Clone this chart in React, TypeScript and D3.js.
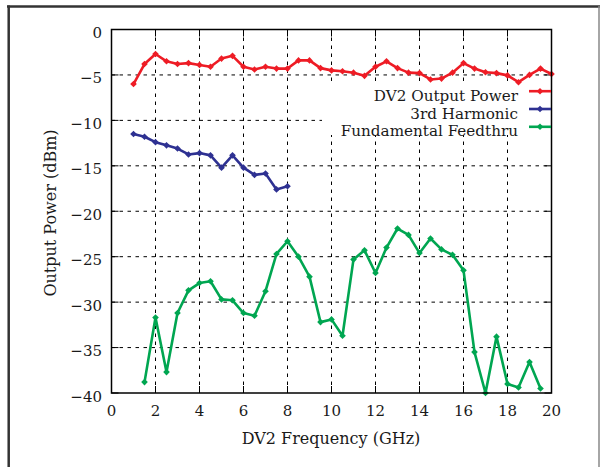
import React from "react";
import * as d3 from "d3";

const freqRed = [1, 1.5, 2, 2.5, 3, 3.5, 4, 4.5, 5, 5.5, 6, 6.5, 7, 7.5, 8, 8.5, 9, 9.5, 10, 10.5, 11, 11.5, 12, 12.5, 13, 13.5, 14, 14.5, 15, 15.5, 16, 16.5, 17, 17.5, 18, 18.5, 19, 19.5, 20];
const outputPower = [-6.0, -3.8, -2.7, -3.5, -3.8, -3.7, -3.9, -4.1, -3.2, -2.9, -4.1, -4.4, -4.1, -4.3, -4.3, -3.4, -3.4, -4.25, -4.5, -4.6, -4.75, -5.1, -4.1, -3.5, -4.25, -4.75, -4.8, -5.5, -5.4, -4.75, -3.7, -4.3, -4.7, -4.8, -5.05, -5.8, -5.0, -4.3, -4.9];

const freqBlue = [1, 1.5, 2, 2.5, 3, 3.5, 4, 4.5, 5, 5.5, 6, 6.5, 7, 7.5, 8];
const thirdHarmonic = [-11.5, -11.8, -12.4, -12.75, -13.1, -13.75, -13.6, -13.85, -15.2, -13.85, -15.2, -16.0, -15.85, -17.6, -17.25];

const freqGreen = [1.5, 2, 2.5, 3, 3.5, 4, 4.5, 5, 5.5, 6, 6.5, 7, 7.5, 8, 8.5, 9, 9.5, 10, 10.5, 11, 11.5, 12, 12.5, 13, 13.5, 14, 14.5, 15, 15.5, 16, 16.5, 17, 17.5, 18, 18.5, 19, 19.5];
const feedthru = [-38.8, -31.7, -37.7, -31.2, -28.7, -27.9, -27.7, -29.7, -29.8, -31.2, -31.5, -28.8, -24.7, -23.3, -25.0, -27.2, -32.2, -31.9, -33.7, -25.3, -24.3, -26.8, -24.0, -21.9, -22.6, -24.6, -23.0, -24.2, -24.8, -26.5, -35.5, -40.0, -33.8, -39.0, -39.4, -36.6, -39.5];

const xTicks = [0, 2, 4, 6, 8, 10, 12, 14, 16, 18, 20];
const yTicks = [0, -5, -10, -15, -20, -25, -30, -35, -40];

const seriesNames = ["DV2 Output Power", "3rd Harmonic", "Fundamental Feedthru"];
const seriesColors = ["#ee1c25", "#2e3192", "#00a651"];

const FONT = "'DejaVu Serif', serif";

export default function App() {
  const W = 600, H = 467;
  const x = d3.scaleLinear().domain([0, 20]).range([111.5, 551.5]);
  const y = d3.scaleLinear().domain([-40, 0]).range([393, 29.5]);
  const [x0, x1] = x.range();
  const [y0, y1] = y.range();

  const series = [
    { xs: freqRed, ys: outputPower },
    { xs: freqBlue, ys: thirdHarmonic },
    { xs: freqGreen, ys: feedthru },
  ];
  const line = d3.line<[number, number]>().x((d) => x(d[0])).y((d) => y(d[1]));
  const marker = d3.symbol().type(d3.symbolSquare).size(22)()!;

  const legY = [91.2, 109, 126.8];

  return (
    <div style={{ position: "absolute", left: 0, top: 0 }}>
      <svg width={W} height={H} style={{ display: "block", background: "#fff" }}>
        {/* outer frame */}
        <line x1={7} x2={600} y1={6.5} y2={6.5} stroke="#333" strokeWidth={2.5} />
        <line x1={8.7} x2={8.7} y1={5.5} y2={H} stroke="#333" strokeWidth={2.5} />
        <line x1={599} x2={599} y1={6} y2={H} stroke="#888" strokeWidth={1.5} />

        {/* grid */}
        {xTicks.slice(1, -1).map((t) => (
          <line key={"gx" + t} x1={x(t)} x2={x(t)} y1={y1} y2={y0} stroke="#000" strokeWidth={1} strokeDasharray="3.5,4.5" />
        ))}
        {yTicks.slice(1, -1).map((t) => (
          <line key={"gy" + t} x1={x0} x2={x1} y1={y(t)} y2={y(t)} stroke="#000" strokeWidth={1} strokeDasharray="3.5,4.5" />
        ))}

        {/* ticks */}
        {xTicks.map((t) => (
          <g key={"tx" + t}>
            <line x1={x(t)} x2={x(t)} y1={y0} y2={y0 - 7} stroke="#000" strokeWidth={1} />
            <line x1={x(t)} x2={x(t)} y1={y1} y2={y1 + 7} stroke="#000" strokeWidth={1} />
            <text x={x(t)} y={415.5} textAnchor="middle" fontFamily={FONT} fontSize={15} fill="#1a1a1a">{t}</text>
          </g>
        ))}
        {yTicks.map((t) => (
          <g key={"ty" + t}>
            <line x1={x0} x2={x0 + 7} y1={y(t)} y2={y(t)} stroke="#000" strokeWidth={1} />
            <line x1={x1} x2={x1 - 7} y1={y(t)} y2={y(t)} stroke="#000" strokeWidth={1} />
            <text x={102} y={y(t) + 8.5} textAnchor="end" fontFamily={FONT} fontSize={15} fill="#1a1a1a">{t === 0 ? "0" : "\u2212" + Math.abs(t)}</text>
          </g>
        ))}

        {/* legend background */}
        <rect x={322} y={83} width={x1 - 322} height={52} fill="#fff" />

        {/* series */}
        {series.map((s, i) => {
          const pts: [number, number][] = s.xs.map((v, k) => [v, s.ys[k]]);
          return (
            <g key={"s" + i}>
              <path d={line(pts)!} fill="none" stroke={seriesColors[i]} strokeWidth={2.6} strokeLinejoin="round" />
              {pts.map((p, k) => (
                <path key={k} d={marker} transform={`translate(${x(p[0])},${y(p[1])}) rotate(45)`} fill={seriesColors[i]} />
              ))}
            </g>
          );
        })}

        {/* plot frame */}
        <rect x={x0} y={y1} width={x1 - x0} height={y0 - y1} fill="none" stroke="#000" strokeWidth={1.5} />

        {/* legend */}
        {seriesNames.map((n, i) => (
          <g key={"l" + i}>
            <text x={518} y={legY[i] + 9.5} textAnchor="end" fontFamily={FONT} fontSize={15.2} fill="#1a1a1a">{n}</text>
            <line x1={529} x2={551} y1={legY[i]} y2={legY[i]} stroke={seriesColors[i]} strokeWidth={2.6} />
            <path d={marker} transform={`translate(540,${legY[i]}) rotate(45)`} fill={seriesColors[i]} />
          </g>
        ))}

        {/* axis labels */}
        <text x={331} y={443.5} textAnchor="middle" fontFamily={FONT} fontSize={16} fill="#1a1a1a">DV2 Frequency (GHz)</text>
        <text transform="translate(56,213) rotate(-90)" textAnchor="middle" fontFamily={FONT} fontSize={16} fill="#1a1a1a">Output Power (dBm)</text>
      </svg>
    </div>
  );
}
